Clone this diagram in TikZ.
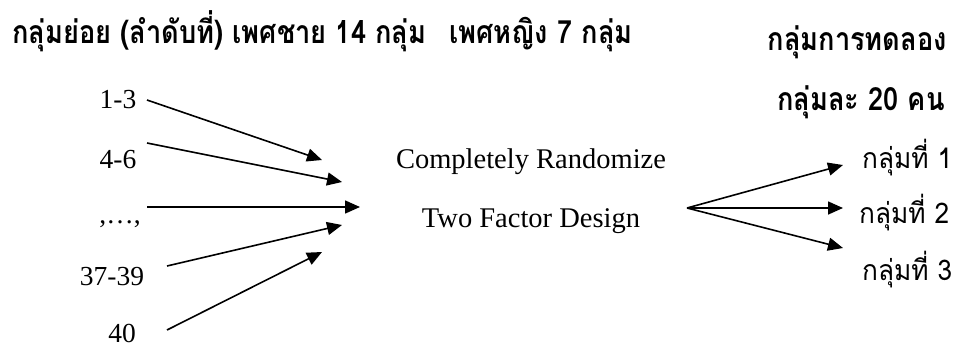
\documentclass[tikz,border=0pt]{standalone}
\usepackage{fontspec}
\setmainfont{Liberation Serif}
\newfontfamily\thaihead[Script=Thai,FakeStretch=0.85]{Loma}
\newfontfamily\thaigrp[Script=Thai,FakeStretch=0.92]{Loma}
\usetikzlibrary{arrows.meta}
\tikzset{
  head/.style={font=\thaihead\bfseries\fontsize{32}{36}\selectfont, inner sep=0pt},
  lbl/.style={font=\fontsize{27.5}{30}\selectfont, inner sep=0pt, anchor=base},
  grp/.style={font=\thaigrp\fontsize{28.5}{32}\selectfont, inner sep=0pt, anchor=base west},
  design/.style={font=\fontsize{28.5}{32}\selectfont, inner sep=0pt, anchor=base},
  arr/.style={line width=1.6pt, -{Triangle[length=15pt,width=13pt]}},
}
\begin{document}
\begin{tikzpicture}[x=1pt,y=-1pt]
\useasboundingbox (0,0) rectangle (955,348);
% headings
\node[head, anchor=base west] (h1) at (12,43) {กลุ่มย่อย (ลำดับที่) เพศชาย 14 กลุ่ม\hspace{23pt}เพศหญิง 7 กลุ่ม};
\node[head, anchor=base east] (h2) at (947,50) {กลุ่มการทดลอง};
\node[head, anchor=base east] (h3) at (945,110) {กลุ่มละ 20 คน};
% subgroup labels
\node[lbl] (l1) at (118,108) {1-3};
\node[lbl] (l2) at (118,168) {4-6};
\node[lbl] (l3) at (120,223) {,\ldots,};
\node[lbl] (l4) at (112,285) {37-39};
\node[lbl] (l5) at (122,342) {40};
% design
\node[design] (d1) at (531,168) {Completely Randomize};
\node[design] (d2) at (531,227) {Two Factor Design};
% treatment groups
\node[grp] (g1) at (862,168) {กลุ่มที่ 1};
\node[grp] (g2) at (859,223) {กลุ่มที่ 2};
\node[grp] (g3) at (862,280) {กลุ่มที่ 3};
% arrow ends
\coordinate (s1) at (147,100);
\coordinate (s2) at (147,143);
\coordinate (s3) at (147,207);
\coordinate (s4) at (167,266);
\coordinate (s5) at (167,330);
\coordinate (t1) at (322,160);
\coordinate (t2) at (342,182);
\coordinate (t3) at (360,207);
\coordinate (t4) at (342,225);
\coordinate (t5) at (322,252);
\coordinate (fan) at (687,208);
\coordinate (r1) at (843,165);
\coordinate (r2) at (843,208);
\coordinate (r3) at (843,248);
\foreach \i in {1,...,5} \draw[arr] (s\i) -- (t\i);
\foreach \i in {1,2,3} \draw[arr] (fan) -- (r\i);
\end{tikzpicture}
\end{document}
